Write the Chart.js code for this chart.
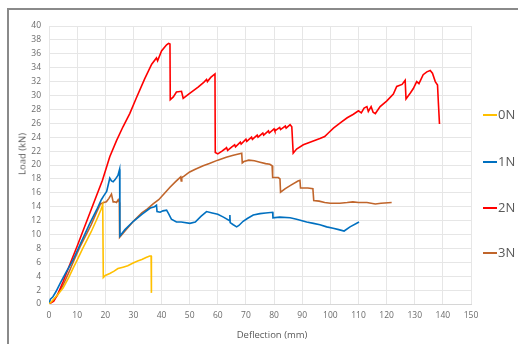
<!DOCTYPE html>
<html>
<head>
<meta charset="utf-8">
<script src="https://cdn.jsdelivr.net/npm/chart.js@4"></script>
<style>
  html, body { margin: 0; padding: 0; background: #fff; }
  #wrap { position: relative; width: 518px; height: 344px; overflow: hidden; background: #fff; }
  #frame { position: absolute; left: 7px; top: 8px; width: 600px; height: 400px; border-left: 2px solid #8a8a8a; border-top: 2px solid #8a8a8a; }
  #c { position: absolute; left: 0; top: 0; }
  .t { position: absolute; font-family: "Open Sans", sans-serif; color: #595959; white-space: nowrap; }
  #xt { font-size: 9.5px; left: 272px; top: 334px; transform: translate(-50%, -50%); }
  #yt { font-size: 9.5px; left: 22px; top: 154px; transform: translate(-50%, -50%) rotate(-90deg); }
  .lg { position: absolute; left: 483px; height: 14px; font-family: "Open Sans", sans-serif; font-size: 13px; color: #595959; }
  .lg i { position: absolute; left: 0; top: 7px; width: 14px; height: 1.6px; }
  .lg span { position: absolute; left: 15px; top: -2px; }
</style>
</head>
<body>
<div id="wrap">
  <div id="frame"></div>
  <canvas id="c" width="518" height="344"></canvas>
  <div class="t" id="xt">Deflection (mm)</div>
  <div class="t" id="yt">Load (kN)</div>
  <div class="lg" style="top:107px"><i style="background:#FFC000"></i><span>0N</span></div>
  <div class="lg" style="top:154px"><i style="background:#0070C0"></i><span>1N</span></div>
  <div class="lg" style="top:200px"><i style="background:#FF0000"></i><span>2N</span></div>
  <div class="lg" style="top:245px"><i style="background:#C0652B"></i><span>3N</span></div>
</div>
<script>
const seriesNames = ["0N", "1N", "2N", "3N"];
const seriesColors = ["#FFC000", "#0070C0", "#FF0000", "#C0652B"];

const x0N = [0, 1, 3, 5, 7, 8.5, 10, 12, 15, 17, 18.5, 19.1, 19.3, 20, 21.6, 23, 24.5, 26.3, 28, 29.9, 31.5, 33, 34.5, 35.8, 36.3, 36.4];
const y0N = [0, 0.4, 1.3, 2.3, 3.8, 5.1, 6.3, 8.0, 10.4, 12.2, 13.6, 14.3, 3.8, 4.1, 4.4, 4.7, 5.1, 5.3, 5.5, 5.9, 6.2, 6.4, 6.7, 6.9, 6.9, 1.6];

const x1N = [0, 0.5, 1.4, 2.5, 4, 6, 8.5, 11, 14.5, 17, 18.6, 19.5, 20.5, 21.6, 22.2, 22.8, 23.5, 24.5, 25.1, 25.2, 27, 30, 33, 36, 37.5, 38.2, 38.4, 39.5, 40.5, 41.8, 42.5, 43.5, 45.3, 47, 50.1, 52, 54, 56, 58, 60, 62, 64.2, 64.3, 64.4, 65.5, 66.7, 67.5, 69, 70.5, 72.6, 75, 77, 79.5, 79.6, 82, 85.7, 88, 91.6, 94, 96.3, 98.7, 101, 103, 104.9, 107, 110.2];
const y1N = [0, 0.7, 1.05, 1.8, 3.0, 4.5, 6.3, 8.5, 11.6, 13.6, 15, 15.6, 16.2, 18.1, 17.7, 17.6, 17.9, 18.5, 19.4, 9.8, 10.7, 11.9, 12.9, 13.8, 14.0, 14.2, 13.3, 13.2, 13.4, 13.5, 13.0, 12.2, 11.8, 11.8, 11.6, 11.8, 12.6, 13.3, 13.1, 12.9, 12.5, 12.0, 12.8, 11.7, 11.4, 11.1, 11.3, 11.9, 12.3, 12.8, 13.0, 13.1, 13.2, 12.4, 12.5, 12.4, 12.2, 11.8, 11.6, 11.4, 11.1, 10.9, 10.7, 10.5, 11.1, 11.8];

const x2N = [0, 1.7, 3, 5, 8, 10, 15, 19, 21.6, 24, 26.3, 28.7, 31, 34, 36.5, 38.2, 38.6, 40, 41.8, 42.5, 43, 43.1, 44.2, 45.3, 47.1, 47.7, 50, 53, 55, 56, 56.3, 57.5, 59, 59.1, 60, 61.5, 62.5, 63.1, 63.5, 65, 66, 66.3, 68, 68.3, 70, 70.3, 72, 72.3, 74, 74.3, 76, 76.3, 78, 78.3, 80, 80.3, 82, 82.3, 84, 84.3, 85.7, 86.3, 86.8, 88, 90.4, 93, 96.3, 98, 99.3, 101.1, 104, 106, 108.2, 110, 111, 112, 113, 113.5, 114.5, 115.2, 116, 117.7, 120, 122.4, 123.6, 125.5, 126.6, 126.9, 128.5, 129.5, 130.7, 131.5, 133, 134.3, 135.5, 136.3, 137.3, 138.1, 138.4, 138.8];
const y2N = [0, 0.4, 1.3, 3.2, 6.3, 8.3, 13.6, 17.8, 21.2, 23.5, 25.5, 27.4, 29.6, 32.4, 34.5, 35.4, 35.0, 36.4, 37.3, 37.5, 37.4, 29.4, 29.8, 30.5, 30.6, 29.6, 30.3, 31.2, 31.9, 32.3, 32.0, 32.6, 33.1, 21.8, 21.6, 22.0, 22.3, 22.5, 22.1, 22.6, 22.9, 22.6, 23.3, 23.0, 23.7, 23.4, 24.0, 23.7, 24.3, 24.0, 24.6, 24.3, 24.9, 24.6, 25.2, 24.9, 25.4, 25.1, 25.6, 25.3, 25.8, 25.5, 21.7, 22.3, 22.9, 23.3, 23.8, 24.1, 24.6, 25.3, 26.2, 26.8, 27.3, 27.8, 27.5, 28.2, 28.4, 27.7, 28.4, 27.6, 27.4, 28.4, 29.2, 30.2, 31.3, 31.6, 32.2, 29.5, 30.4, 31.0, 32.0, 31.7, 33.0, 33.4, 33.6, 33.2, 32.0, 31.5, 29.0, 25.9];

const x3N = [0, 1.5, 3, 5, 7, 9, 11, 13, 15, 17, 18.3, 19.5, 20.4, 21.3, 22.2, 22.8, 23.3, 24, 24.6, 25.0, 25.1, 27, 30, 33, 35, 37, 39, 41, 43, 45, 46.8, 47, 47.2, 48, 50, 52, 54.8, 57, 60, 63, 65.5, 68.5, 68.7, 69.3, 71, 73, 75, 77, 78.5, 79.3, 79.5, 81.5, 82.1, 82.3, 84, 86, 88.5, 89.2, 89.4, 90, 92, 93.8, 94.1, 96, 98, 100, 103.4, 106, 108, 110, 113, 116, 118, 121.8];
const y3N = [0, 0.5, 1.3, 2.7, 4.5, 6.4, 8.2, 9.8, 11.4, 13.3, 14.4, 14.6, 14.7, 15.2, 15.8, 14.7, 14.7, 14.6, 15.0, 14.6, 9.6, 10.5, 11.9, 13.1, 13.7, 14.4, 15.0, 15.9, 16.8, 17.6, 18.3, 17.7, 18.2, 18.4, 19.0, 19.4, 19.9, 20.2, 20.7, 21.1, 21.4, 21.7, 20.3, 20.5, 20.7, 20.6, 20.4, 20.2, 20.1, 19.9, 18.2, 18.2, 18.0, 16.1, 16.6, 17.1, 17.7, 17.8, 16.7, 16.7, 16.7, 16.6, 14.9, 14.8, 14.6, 14.5, 14.5, 14.6, 14.7, 14.6, 14.6, 14.4, 14.5, 14.6];

const xTicks = [0, 10, 20, 30, 40, 50, 60, 70, 80, 90, 100, 110, 120, 130, 140, 150];
const yTicks = [0, 2, 4, 6, 8, 10, 12, 14, 16, 18, 20, 22, 24, 26, 28, 30, 32, 34, 36, 38, 40];

const xs = [x0N, x1N, x2N, x3N];
const ys = [y0N, y1N, y2N, y3N];

const datasets = seriesNames.map((n, i) => ({
  label: n,
  data: xs[i].map((x, k) => ({ x: x, y: ys[i][k] })),
  borderColor: seriesColors[i],
  backgroundColor: seriesColors[i],
  borderWidth: 1.6,
  pointRadius: 0,
  showLine: true,
  tension: 0,
  fill: false
}));

const tickFont = { family: "Open Sans", size: 8.5 };

new Chart(document.getElementById("c"), {
  type: "scatter",
  data: { datasets: datasets },
  options: {
    responsive: false,
    animation: false,
    devicePixelRatio: 1,
    layout: { padding: { left: 0, top: 26, right: 47, bottom: 0 } },
    plugins: { legend: { display: false }, tooltip: { enabled: false } },
    scales: {
      x: {
        type: "linear",
        min: xTicks[0], max: xTicks[xTicks.length - 1],
        afterBuildTicks: (s) => { s.ticks = xTicks.map(v => ({ value: v })); },
        afterFit: (s) => { s.height = 40; },
        ticks: { font: tickFont, color: "#6b6b6b", padding: 6, maxRotation: 0 },
        grid: { color: "#e6e6e6", drawTicks: false, lineWidth: 1 },
        border: { color: "#d6d6d6" }
      },
      y: {
        type: "linear",
        min: yTicks[0], max: yTicks[yTicks.length - 1],
        afterBuildTicks: (s) => { s.ticks = yTicks.map(v => ({ value: v })); },
        afterFit: (s) => { s.width = 49; },
        ticks: { font: tickFont, color: "#6b6b6b", padding: 8 },
        grid: { color: "#e6e6e6", drawTicks: false, lineWidth: 1 },
        border: { color: "#e6e6e6" }
      }
    }
  }
});
</script>
</body>
</html>
